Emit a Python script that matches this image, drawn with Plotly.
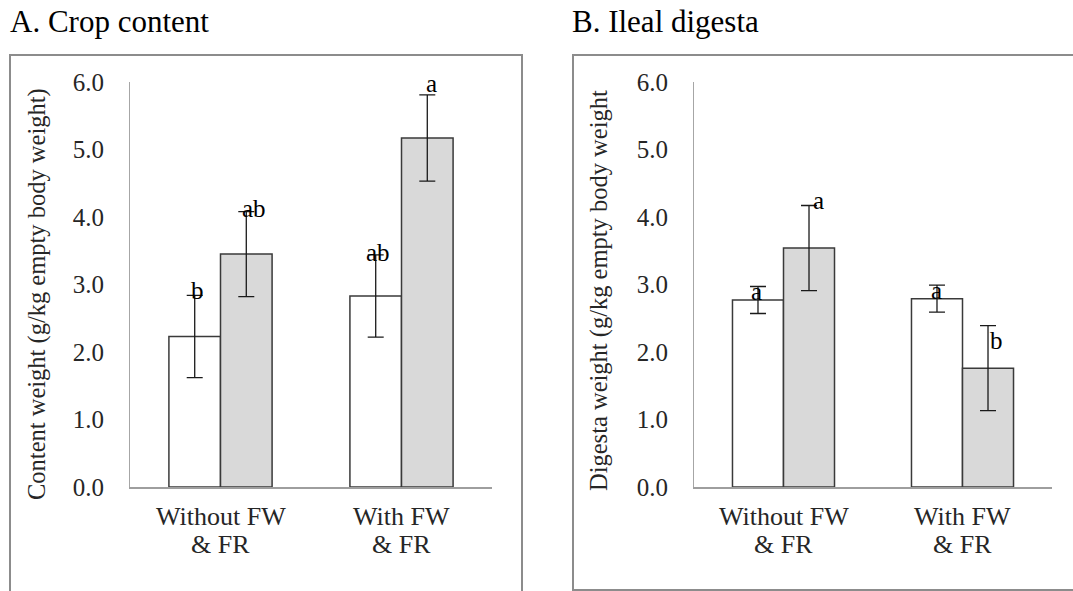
import plotly.graph_objects as go

W, H = 1073, 591

# ---- data ----
categories = ["Without FW<br>& FR", "With FW<br>& FR"]
y_ticks = [0, 1, 2, 3, 4, 5, 6]

crop_white = [2.23, 2.83]
crop_white_err = [0.61, 0.61]
crop_gray = [3.45, 5.17]
crop_gray_err = [0.63, 0.64]
crop_white_letters = ["b", "ab"]
crop_gray_letters = ["ab", "a"]

ileal_white = [2.77, 2.79]
ileal_white_err = [0.20, 0.20]
ileal_gray = [3.54, 1.76]
ileal_gray_err = [0.63, 0.63]
ileal_white_letters = ["a", "a"]
ileal_gray_letters = ["a", "b"]

title_a = "A. Crop content"
title_b = "B. Ileal digesta"
ylabel_a = "Content weight (g/kg empty body weight)"
ylabel_b = "Digesta weight (g/kg empty body weight"

# ---- style ----
FONT = "Liberation Serif, Times New Roman, serif"
TXT = "#262626"
BAR_LINE = "#3a3a3a"
GRAY_FILL = "#d9d9d9"
ERR = "#1a1a1a"
BARGAP = 0.43


def px_x(p):
    return p / W


def px_y(p):
    return 1 - p / H


fig = go.Figure()


def add_bars(xa, ya, white, werr, gray, gerr):
    fig.add_trace(go.Bar(
        x=categories, y=white, xaxis=xa, yaxis=ya,
        marker=dict(color="white", line=dict(color=BAR_LINE, width=1.5)),
        error_y=dict(type="data", array=werr, visible=True, color=ERR,
                     thickness=1.3, width=8),
        showlegend=False, hoverinfo="skip"))
    fig.add_trace(go.Bar(
        x=categories, y=gray, xaxis=xa, yaxis=ya,
        marker=dict(color=GRAY_FILL, line=dict(color=BAR_LINE, width=1.5)),
        error_y=dict(type="data", array=gerr, visible=True, color=ERR,
                     thickness=1.3, width=8),
        showlegend=False, hoverinfo="skip"))


add_bars("x", "y", crop_white, crop_white_err, crop_gray, crop_gray_err)
add_bars("x2", "y2", ileal_white, ileal_white_err, ileal_gray, ileal_gray_err)

axis_common = dict(showgrid=False, zeroline=False, automargin=False)
yaxis_common = dict(
    range=[0, 6], tickvals=y_ticks, tickformat=".1f", showline=True,
    linecolor="#a6a6a6", linewidth=1, ticks="", ticklabelstandoff=20,
    tickfont=dict(family=FONT, size=25, color=TXT), **axis_common)
xaxis_common = dict(
    showline=True, linecolor="#9e9e9e", linewidth=1.5, ticks="",
    showticklabels=False, range=[-0.5, 1.5], **axis_common)

ydom = [px_y(487), px_y(82)]
fig.update_layout(
    template="none",
    width=W, height=H, autosize=False,
    margin=dict(l=0, r=0, t=0, b=0, pad=0),
    paper_bgcolor="white", plot_bgcolor="rgba(0,0,0,0)",
    barmode="group", bargap=BARGAP, bargroupgap=0,
    xaxis=dict(domain=[px_x(130), px_x(492)], anchor="y", **xaxis_common),
    yaxis=dict(domain=ydom, anchor="x", **yaxis_common),
    xaxis2=dict(domain=[px_x(694), px_x(1052)], anchor="y2", **xaxis_common),
    yaxis2=dict(domain=ydom, anchor="x2", **yaxis_common),
)

# panel frames
fig.add_shape(type="rect", xref="paper", yref="paper",
              x0=px_x(10), x1=px_x(522), y0=px_y(610), y1=px_y(55),
              line=dict(color="#8c8c8c", width=2), layer="below")
fig.add_shape(type="rect", xref="paper", yref="paper",
              x0=px_x(573), x1=px_x(1100), y0=px_y(590), y1=px_y(55),
              line=dict(color="#8c8c8c", width=2), layer="below")

annotations = []
# panel titles
for txt, x in [(title_a, 9), (title_b, 571)]:
    annotations.append(dict(text=txt, xref="paper", yref="paper",
                            x=px_x(x), y=px_y(22), xanchor="left",
                            yanchor="middle", showarrow=False, borderpad=0,
                            font=dict(family=FONT, size=31, color="black")))
# y-axis titles
for txt, x, y in [(ylabel_a, 37, 294), (ylabel_b, 599, 291)]:
    annotations.append(dict(text=txt, xref="paper", yref="paper",
                            x=px_x(x), y=px_y(y), textangle=-90,
                            xanchor="center", yanchor="middle",
                            showarrow=False,
                            font=dict(family=FONT, size=24.5, color=TXT)))
# category labels (two lines each, placed on the category axis)
for xa in ["x", "x2"]:
    for i, cat in enumerate(categories):
        for line, ypx in zip(cat.split("<br>"), [516, 544]):
            annotations.append(dict(text=line, xref=xa, yref="paper",
                                    x=i, y=px_y(ypx), xanchor="center",
                                    yanchor="middle", showarrow=False,
                                    font=dict(family=FONT, size=26, color=TXT)))

# significance letters at top of error bars
off = (1 - BARGAP) / 4
letter_sets = [
    ("x", "y", crop_white, crop_white_err, crop_white_letters, -off, [3, 2], [5, 2]),
    ("x", "y", crop_gray, crop_gray_err, crop_gray_letters, off, [8, 4], [3, 11]),
    ("x2", "y2", ileal_white, ileal_white_err, ileal_white_letters, -off, [-1, 0], [-5, -5]),
    ("x2", "y2", ileal_gray, ileal_gray_err, ileal_gray_letters, off, [9, 8], [5, -15]),
]
for xa, ya, vals, errs, letters, o, xs, ys in letter_sets:
    for i, (v, e, L) in enumerate(zip(vals, errs, letters)):
        annotations.append(dict(text=L, xref=xa, yref=ya, x=i + o, y=v + e,
                                xshift=xs[i], yshift=ys[i],
                                xanchor="center", yanchor="middle",
                                showarrow=False,
                                font=dict(family=FONT, size=25, color="black")))

fig.update_layout(annotations=annotations)
fig.write_html(
    "out.html",
    config={"displayModeBar": False},
    post_script="document.body.style.margin='0';document.body.style.overflow='hidden';",
)
